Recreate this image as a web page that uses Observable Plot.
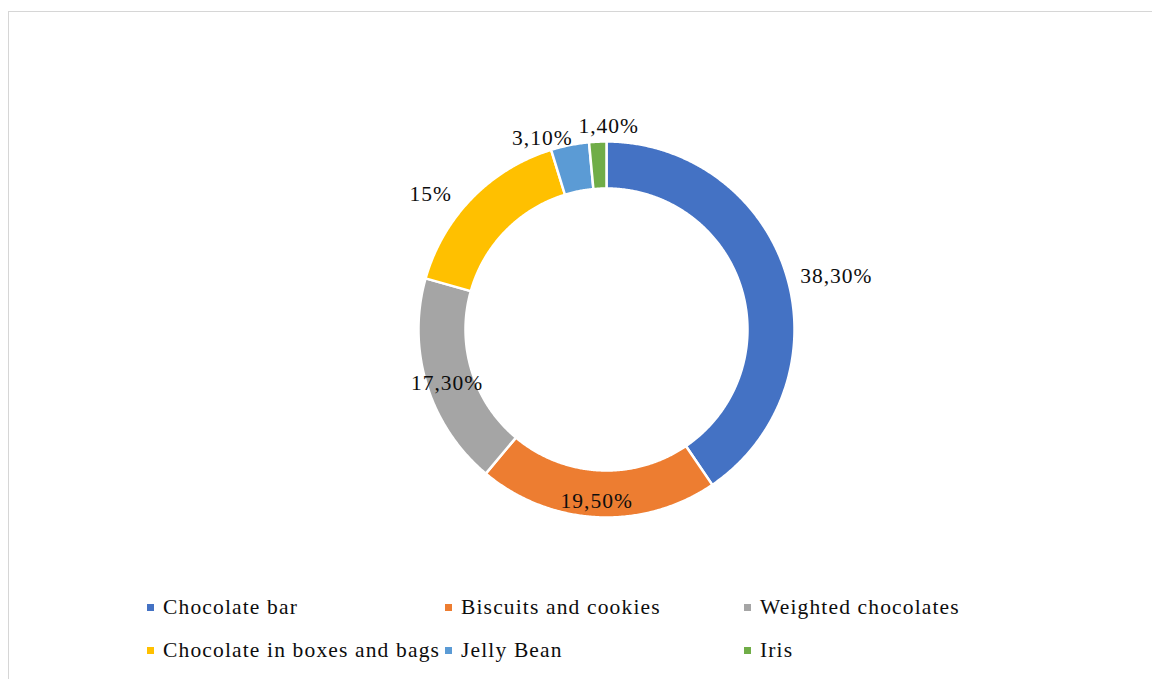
<!DOCTYPE html>
<html>
<head>
<meta charset="utf-8">
<script src="https://cdn.jsdelivr.net/npm/d3@7"></script>
<script src="https://cdn.jsdelivr.net/npm/@observablehq/plot@0.6"></script>
<style>
  html, body { margin: 0; padding: 0; background: #fff; overflow: hidden; }
  #page { position: relative; width: 1152px; height: 679px; overflow: hidden; font-family: "Liberation Serif", "Times New Roman", serif; }
  #frame { position: absolute; left: 8px; top: 11px; width: 1300px; height: 900px; border: 1.5px solid #d6d6d6; box-sizing: border-box; pointer-events: none; }
  #chart { position: absolute; left: 0; top: 0; }
  #legend { position: absolute; left: 147px; top: 586px; display: grid; grid-template-columns: 298px 299px 300px; grid-auto-rows: 43px; }
  .item { display: flex; align-items: center; font-size: 21.5px; letter-spacing: 1.15px; color: #0d0d0d; white-space: nowrap; }
  .sw { width: 7px; height: 7px; margin-right: 9px; flex: none; }
</style>
</head>
<body>
<div id="page">
  <div id="chart"></div>
  <div id="legend"></div>
  <div id="frame"></div>
</div>
<script>
// ---- data ----
const categories = ["Chocolate bar", "Biscuits and cookies", "Weighted chocolates", "Chocolate in boxes and bags", "Jelly Bean", "Iris"];
const values = [38.3, 19.5, 17.3, 15, 3.1, 1.4];
const valueLabels = ["38,30%", "19,50%", "17,30%", "15%", "3,10%", "1,40%"];
const colors = ["#4472C4", "#ED7D31", "#A5A5A5", "#FFC000", "#5B9BD5", "#70AD47"];

// ---- layout (not data) ----
const W = 1152, H = 586;
const cx = 606, cy = 329, R = 188;      // pixel centre and outer radius
const innerFrac = 0.75;
// label placement: radius (in outer-radius units) and angular nudge (deg) from slice mid-angle
const labelRadius = [1.255, 0.915, 0.895, 1.18, 1.075, 1.083];
const labelNudge = [4.1, 0.4, -1.5, -6.7, -7.3, 3.3];

const total = d3.sum(values);
let acc = 0;
const slices = categories.map((c, i) => {
  const a0 = acc / total * 2 * Math.PI;
  acc += values[i];
  const a1 = acc / total * 2 * Math.PI;
  return {category: c, value: values[i], label: valueLabels[i], a0, a1, i};
});

// ring outlines in radius units (y up), clockwise from 12 o'clock
const ringPts = [];
for (const s of slices) {
  const n = Math.max(2, Math.ceil((s.a1 - s.a0) / (0.4 * Math.PI / 180)));
  for (let k = 0; k <= n; k++) {
    const a = s.a0 + (s.a1 - s.a0) * k / n;
    ringPts.push({category: s.category, x: Math.sin(a), y: Math.cos(a)});
  }
  for (let k = n; k >= 0; k--) {
    const a = s.a0 + (s.a1 - s.a0) * k / n;
    ringPts.push({category: s.category, x: innerFrac * Math.sin(a), y: innerFrac * Math.cos(a)});
  }
}

const labelPts = slices.map(s => {
  const mid = (s.a0 + s.a1) / 2 + labelNudge[s.i] * Math.PI / 180;
  const r = labelRadius[s.i];
  return {label: s.label, x: r * Math.sin(mid), y: r * Math.cos(mid)};
});

const chart = Plot.plot({
  width: W,
  height: H,
  margin: 0,
  style: {fontFamily: "Liberation Serif, Times New Roman, serif", letterSpacing: "1px", background: "transparent"},
  x: {domain: [-cx / R, (W - cx) / R], range: [0, W], axis: null},
  y: {domain: [-(H - cy) / R, cy / R], range: [H, 0], axis: null},
  color: {domain: categories, range: colors},
  marks: [
    Plot.line(ringPts, {x: "x", y: "y", z: "category", fill: "category", stroke: "white", strokeWidth: 2.5, curve: "linear-closed"}),
    Plot.text(labelPts, {x: "x", y: "y", text: "label", fontSize: 21.5, fill: "#0d0d0d"})
  ]
});
document.getElementById("chart").appendChild(chart);

// legend (3 columns, 2 rows)
const legend = document.getElementById("legend");
categories.forEach((c, i) => {
  const item = document.createElement("div");
  item.className = "item";
  const sw = document.createElement("span");
  sw.className = "sw";
  sw.style.background = colors[i];
  const t = document.createElement("span");
  t.textContent = c;
  item.appendChild(sw);
  item.appendChild(t);
  legend.appendChild(item);
});
</script>
</body>
</html>
